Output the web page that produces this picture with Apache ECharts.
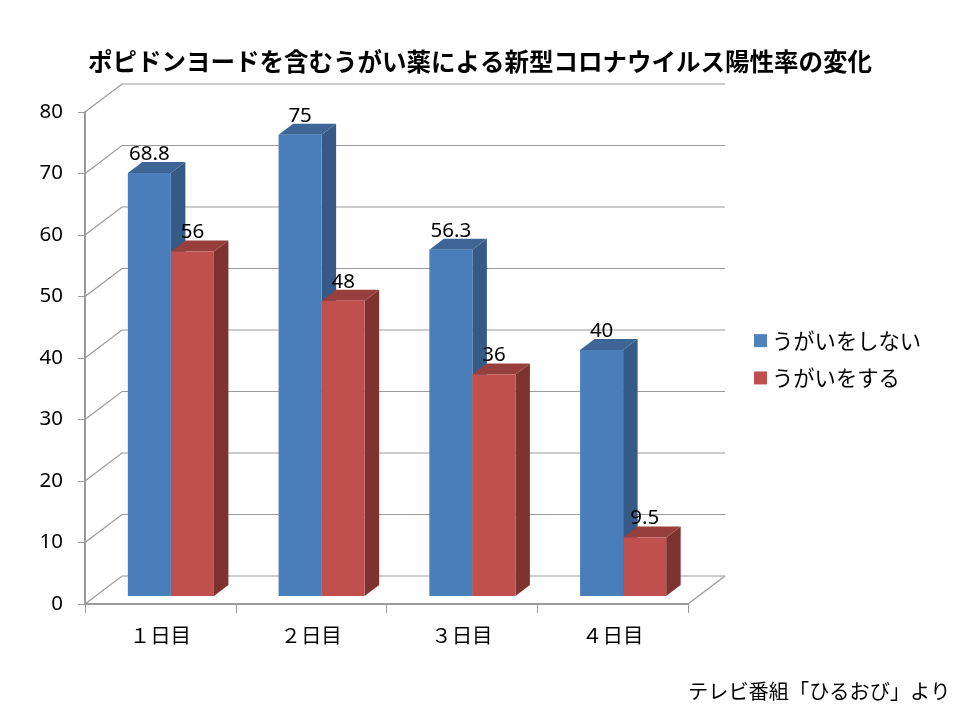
<!DOCTYPE html>
<html>
<head>
<meta charset="utf-8">
<style>html,body{margin:0;padding:0;background:#fff}#c{width:960px;height:720px}</style>
<script src="https://cdn.jsdelivr.net/npm/echarts@6/dist/echarts.min.js"></script>
</head>
<body>
<div id="c"></div>
<script>
const categories = ['１日目', '２日目', '３日目', '４日目'];
const noGargle = [68.8, 75, 56.3, 40];
const gargle = [56, 48, 36, 9.5];
const yTicks = [0, 10, 20, 30, 40, 50, 60, 70, 80];
const titleText = 'ポピドンヨードを含むうがい薬による新型コロナウイルス陽性率の変化';
const sourceText = 'テレビ番組「ひるおび」より';
const seriesNames = ['うがいをしない', 'うがいをする'];

const WALL = [37, -28];
const DEPTH = [14.5, -11];
const GAP = [10.5, -8];
const JP = '"Noto Sans CJK JP", sans-serif';
const NUM = '"Noto Sans", sans-serif';

function wallItem(params, api) {
  const cs = params.coordSys;
  const y = api.coord([0, api.value(0)])[1];
  const x0 = cs.x, x1 = cs.x + cs.width;
  const style = { stroke: '#9a9a9a', lineWidth: 1.2, fill: null };
  const children = [{
    type: 'polyline',
    shape: { points: [[x0, y], [x0 + WALL[0], y + WALL[1]], [x1 + WALL[0], y + WALL[1]]] },
    style
  }];
  if (api.value(0) === 0) {
    children.push({
      type: 'line',
      shape: { x1: x1 + WALL[0], y1: y + WALL[1], x2: x1, y2: y },
      style
    });
  }
  return { type: 'group', children };
}

function barRenderer(side, front, top, flank) {
  return function (params, api) {
    const i = api.value(0), v = api.value(1);
    const band = api.size([1, 0])[0];
    const w = band * 0.2855;
    const p = api.coord([i, v]);
    const b = api.coord([i, 0]);
    const xL = p[0] + GAP[0] + (side === 0 ? -w : 0);
    const xR = xL + w;
    const yT = p[1] + GAP[1];
    const yB = b[1] + GAP[1];
    return {
      type: 'group',
      children: [
        { type: 'polygon', shape: { points: [[xR, yT], [xR + DEPTH[0], yT + DEPTH[1]], [xR + DEPTH[0], yB + DEPTH[1]], [xR, yB]] }, style: { fill: flank } },
        { type: 'polygon', shape: { points: [[xL, yT], [xL + DEPTH[0], yT + DEPTH[1]], [xR + DEPTH[0], yT + DEPTH[1]], [xR, yT]] }, style: { fill: top } },
        { type: 'rect', shape: { x: xL, y: yT, width: w, height: yB - yT }, style: { fill: front } },
        { type: 'text', style: { x: (xL + xR) / 2, y: yT - 19, text: String(v), fill: '#000', font: '20.5px ' + NUM, align: 'center', verticalAlign: 'middle' } }
      ]
    };
  };
}

const chart = echarts.init(document.getElementById('c'), null, { renderer: 'canvas' });
chart.setOption({
  animation: false,
  backgroundColor: '#fff',
  title: [
    { text: titleText, left: 83, top: 44, textStyle: { fontFamily: JP, fontSize: 24.5, fontWeight: 'bold', color: '#000' } },
    { text: sourceText, left: 683, top: 676, textStyle: { fontFamily: JP, fontSize: 20.2, fontWeight: 'normal', color: '#000' } }
  ],
  legend: {
    orient: 'vertical', left: 749, top: 325, itemWidth: 13, itemHeight: 13, itemGap: 16,
    icon: 'rect', data: seriesNames,
    textStyle: { fontFamily: JP, fontSize: 21.3, color: '#000' }
  },
  grid: { left: 85, top: 112, width: 603, height: 492 },
  xAxis: {
    type: 'category', data: categories,
    axisLine: { lineStyle: { color: '#9a9a9a', width: 2 } },
    axisTick: { show: true, length: 9, lineStyle: { color: '#9a9a9a', width: 1 } },
    axisLabel: { fontFamily: JP, fontSize: 20.5, color: '#000', margin: 21 },
    splitLine: { show: false }
  },
  yAxis: {
    type: 'value', min: 0, max: 80, interval: 10,
    axisLine: { show: true, lineStyle: { color: '#9a9a9a', width: 2 } },
    axisTick: { show: true, length: 7, lineStyle: { color: '#9a9a9a', width: 1 } },
    axisLabel: { fontFamily: NUM, fontSize: 20.5, color: '#000', margin: 22 },
    splitLine: { show: false }
  },
  series: [
    { type: 'custom', coordinateSystem: 'cartesian2d', silent: true, z: 1, clip: false,
      renderItem: wallItem, data: yTicks.map(v => [v]), encode: { y: 0 } },
    { type: 'custom', name: seriesNames[0], coordinateSystem: 'cartesian2d', z: 2, clip: false,
      itemStyle: { color: '#4F81BD' },
      renderItem: barRenderer(0, '#4a7ebb', '#3d6596', '#345a85'),
      data: noGargle.map((v, i) => [i, v]), encode: { x: 0, y: 1 } },
    { type: 'custom', name: seriesNames[1], coordinateSystem: 'cartesian2d', z: 3, clip: false,
      itemStyle: { color: '#C0504D' },
      renderItem: barRenderer(1, '#c0504d', '#973f3d', '#7f3331'),
      data: gargle.map((v, i) => [i, v]), encode: { x: 0, y: 1 } }
  ]
});
</script>
</body>
</html>
